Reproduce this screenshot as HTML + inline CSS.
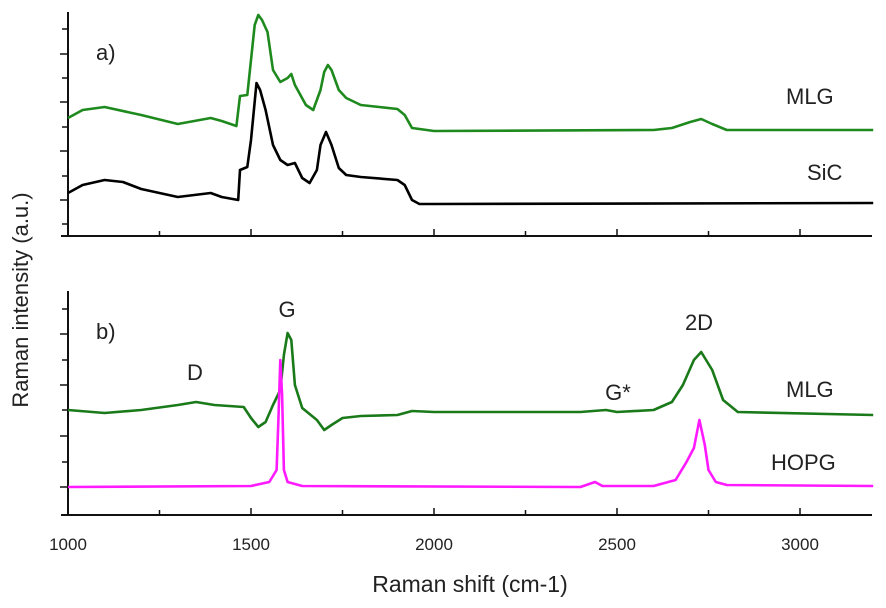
<!DOCTYPE html>
<html><head><meta charset="utf-8"><style>
body{margin:0;background:#fff;}
svg{display:block;font-family:"Liberation Sans",Arial,sans-serif;}
</style></head><body>
<svg id="chart" width="886" height="608" viewBox="0 0 886 608" xmlns="http://www.w3.org/2000/svg">
<g id="axes"></g>
<g id="series"></g>
<text x="0" y="0" transform="translate(28,300) rotate(-90)" text-anchor="middle" font-size="22" fill="#222">Raman intensity (a.u.)</text>
<text x="470" y="592" text-anchor="middle" font-size="23" fill="#222">Raman shift (cm-1)</text>
<text x="96" y="60" font-size="22" fill="#222">a)</text>
<text x="96" y="339" font-size="22" fill="#222">b)</text>
<text x="786" y="104" font-size="22" fill="#222">MLG</text>
<text x="807" y="180" font-size="22" fill="#222">SiC</text>
<text x="287" y="317" text-anchor="middle" font-size="22" fill="#222">G</text>
<text x="195" y="380" text-anchor="middle" font-size="22" fill="#222">D</text>
<text x="618" y="400" text-anchor="middle" font-size="22" fill="#222">G*</text>
<text x="699" y="330" text-anchor="middle" font-size="22" fill="#222">2D</text>
<text x="786" y="397" font-size="22" fill="#222">MLG</text>
<text x="771" y="470" font-size="22" fill="#222">HOPG</text>
</svg>
<script>
const xTicks = [1000, 1500, 2000, 2500, 3000];
const xTickLabels = ["1000", "1500", "2000", "2500", "3000"];
const topX = [1000,1040,1100,1200,1300,1390,1420,1460,1470,1490,1500,1510,1520,1530,1545,1560,1580,1600,1610,1620,1650,1670,1690,1700,1710,1720,1740,1760,1800,1850,1900,1920,1940,2000,2600,2650,2700,2730,2760,2800,3200];
const mlgTop = [118,126,129,121,112,118,115,110,140,141,176,211,221,216,204,166,154,158,162,151,131,126,146,164,171,166,146,138,131,129,127,121,108,105,106,108,114,117,112,106,106];
const sicX = [1000,1040,1100,1150,1200,1300,1390,1420,1465,1470,1490,1500,1515,1525,1540,1560,1580,1600,1620,1640,1660,1680,1690,1705,1720,1740,1760,1800,1900,1920,1940,1960,2000,3200];
const sicVals = [43,51,56,54,47,39,43,39,36,66,69,96,153,146,126,91,76,71,73,58,53,66,91,104,91,68,61,59,56,51,36,32,32,33];
const botX = [1000,1100,1200,1300,1350,1400,1480,1500,1520,1540,1560,1580,1590,1600,1610,1620,1640,1680,1700,1720,1750,1800,1900,1940,2000,2400,2470,2500,2600,2650,2680,2710,2730,2760,2790,2830,3200];
const mlgBottom = [105,102,105,110,113,110,108,97,88,93,110,125,160,182,175,130,107,95,85,90,97,99,100,104,103,103,105,103,105,113,130,155,163,145,115,103,100];
const hopgX = [1000,1500,1550,1570,1575,1580,1585,1590,1600,1640,2400,2440,2460,2600,2660,2690,2710,2725,2740,2750,2770,2800,3200];
const hopgVals = [28,29,33,45,95,155,120,45,33,29,28,33,29,29,35,53,67,95,70,45,33,30,29];

const xS = v => 68 + (v - 1000) * 183 / 500;
const yTop = v => 236 - v;
const yBot = v => 515 - v;
const NS = "http://www.w3.org/2000/svg";
const axes = document.getElementById('axes');
const series = document.getElementById('series');
function mk(tag, attrs, parent){const e=document.createElementNS(NS,tag);for(const k in attrs)e.setAttribute(k,attrs[k]);parent.appendChild(e);return e;}

function panel(top, bottom, yTicks, majorSet, name){
  const g = mk('g', {}, axes);
  
  
  mk('line',{x1:68,y1:top,x2:68,y2:bottom,stroke:'#111','stroke-width':2},g);
  mk('line',{x1:61,y1:bottom,x2:872,y2:bottom,stroke:'#111','stroke-width':2},g);
  yTicks.forEach((y,i)=>{mk('line',{x1:majorSet.includes(i)?60:62,y1:y,x2:68,y2:y,stroke:'#111','stroke-width':1.5},g);});
  for(let v=1000; v<=3200; v+=250){
    mk('line',{x1:xS(v),y1:bottom,x2:xS(v),y2:bottom-(v%500===0?7:5),stroke:'#111','stroke-width':1.5},g);
  }
}
panel(12, 236, [29,54,78,102,127,151,176,200,224], [1,3,5,7], 'top-panel-axes');
panel(291, 515, [309,334,360,385,410,436,462,487], [1,3,5,7], 'bottom-panel-axes');

xTicks.forEach((v,i)=>{
  const t = mk('text',{x:xS(v),y:550,'text-anchor':'middle','font-size':17,fill:'#222'},axes);
  
  
  t.textContent = xTickLabels[i];
});

function line(xs, vs, ys, color, name){
  const d = xs.map((x,i)=>(i?'L':'M')+xS(x).toFixed(1)+','+ys(vs[i]).toFixed(1)).join('');
  const p = mk('path',{d:d,fill:'none',stroke:color,'stroke-width':2.6,'stroke-linejoin':'round'},series);
  
  
}
line(topX, mlgTop, yTop, '#1e8a1e', 'mlg-top-line');
line(sicX, sicVals, yTop, '#000', 'sic-line');
line(botX, mlgBottom, yBot, '#1a7a1a', 'mlg-bottom-line');
line(hopgX, hopgVals, yBot, '#ff1aff', 'hopg-line');
</script>
</body></html>
